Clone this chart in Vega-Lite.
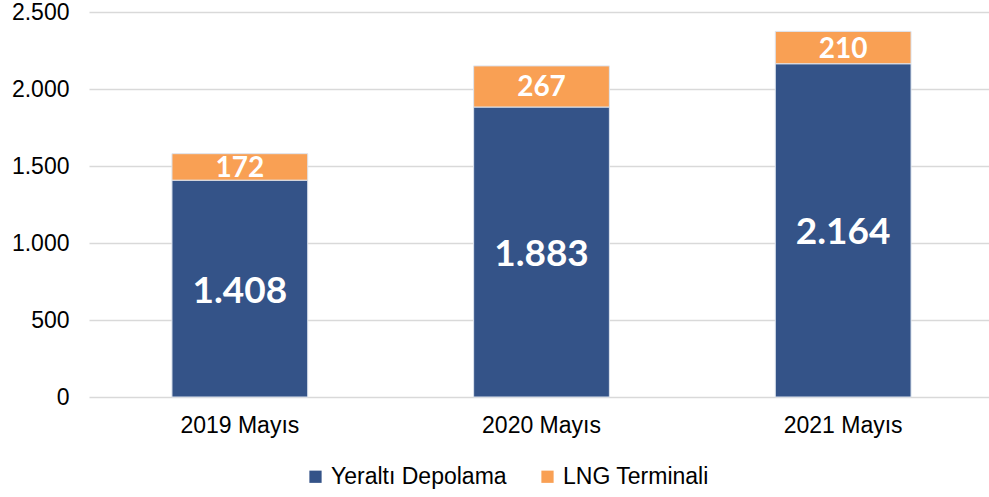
{
  "$schema": "https://vega.github.io/schema/vega-lite/v6.json",
  "width": 905,
  "height": 385,
  "autosize": {"type": "none"},
  "padding": {"left": 89, "top": 12, "right": 0, "bottom": 100},
  "background": "white",
  "config": {
    "view": {"stroke": null},
    "locale": {"number": {"decimal": ",", "thousands": ".", "grouping": [3], "currency": ["", ""]}},
    "font": "Liberation Sans"
  },
  "data": {
    "values": [
      {"period": "2019 Mayıs", "type": "Yeraltı Depolama", "order": 1, "value": 1408},
      {"period": "2019 Mayıs", "type": "LNG Terminali", "order": 2, "value": 172},
      {"period": "2020 Mayıs", "type": "Yeraltı Depolama", "order": 1, "value": 1883},
      {"period": "2020 Mayıs", "type": "LNG Terminali", "order": 2, "value": 267},
      {"period": "2021 Mayıs", "type": "Yeraltı Depolama", "order": 1, "value": 2164},
      {"period": "2021 Mayıs", "type": "LNG Terminali", "order": 2, "value": 210}
    ]
  },
  "transform": [
    {"stack": "value", "groupby": ["period"], "sort": [{"field": "order"}], "as": ["v0", "v1"]},
    {"calculate": "(datum.v0 + datum.v1) / 2", "as": "mid"}
  ],
  "encoding": {
    "x": {
      "field": "period", "type": "nominal", "title": null,
      "scale": {"paddingInner": 0.55, "paddingOuter": 0.275},
      "axis": {"labelAngle": 0, "labelFontSize": 23, "labelColor": "#000000", "ticks": false, "domain": false, "labelPadding": 17, "grid": false, "labelFont": "Liberation Sans"}
    }
  },
  "layer": [
    {
      "mark": {"type": "bar", "stroke": "#dde4ee", "strokeWidth": 1},
      "encoding": {
        "y": {
          "field": "v1", "type": "quantitative", "title": null,
          "scale": {"domain": [0, 2500], "nice": false},
          "axis": {"values": [0, 500, 1000, 1500, 2000, 2500], "format": ",.0f", "labelFontSize": 23, "labelColor": "#000000", "ticks": false, "domain": false, "labelPadding": 20, "gridColor": "#d9d9d9", "gridWidth": 1.5, "labelFont": "Liberation Sans"}
        },
        "y2": {"field": "v0"},
        "color": {
          "field": "type", "type": "nominal",
          "scale": {"domain": ["Yeraltı Depolama", "LNG Terminali"], "range": ["#345388", "#F9A054"]},
          "legend": {
            "title": null, "orient": "none", "direction": "horizontal",
            "legendX": 215, "legendY": 453,
            "symbolType": "square", "symbolSize": 150, "symbolStrokeWidth": 0, "symbolOpacity": 1,
            "labelFontSize": 23, "labelColor": "#000000", "labelFont": "Liberation Sans",
            "labelOffset": 4, "columnPadding": 29, "labelLimit": 400
          }
        }
      }
    },
    {
      "transform": [{"filter": "datum.type === 'Yeraltı Depolama'"}],
      "mark": {"type": "text", "color": "white", "font": "Lato", "fontWeight": "bold", "baseline": "middle", "align": "center", "fontSize": 37, "dy": 3},
      "encoding": {
        "y": {"field": "mid", "type": "quantitative"},
        "text": {"field": "value", "type": "quantitative", "format": ",.0f"}
      }
    },
    {
      "transform": [{"filter": "datum.type === 'LNG Terminali'"}],
      "mark": {"type": "text", "color": "white", "font": "Lato", "fontWeight": "bold", "baseline": "middle", "align": "center", "fontSize": 28, "dy": 2},
      "encoding": {
        "y": {"field": "mid", "type": "quantitative"},
        "text": {"field": "value", "type": "quantitative", "format": ",.0f"}
      }
    }
  ]
}
